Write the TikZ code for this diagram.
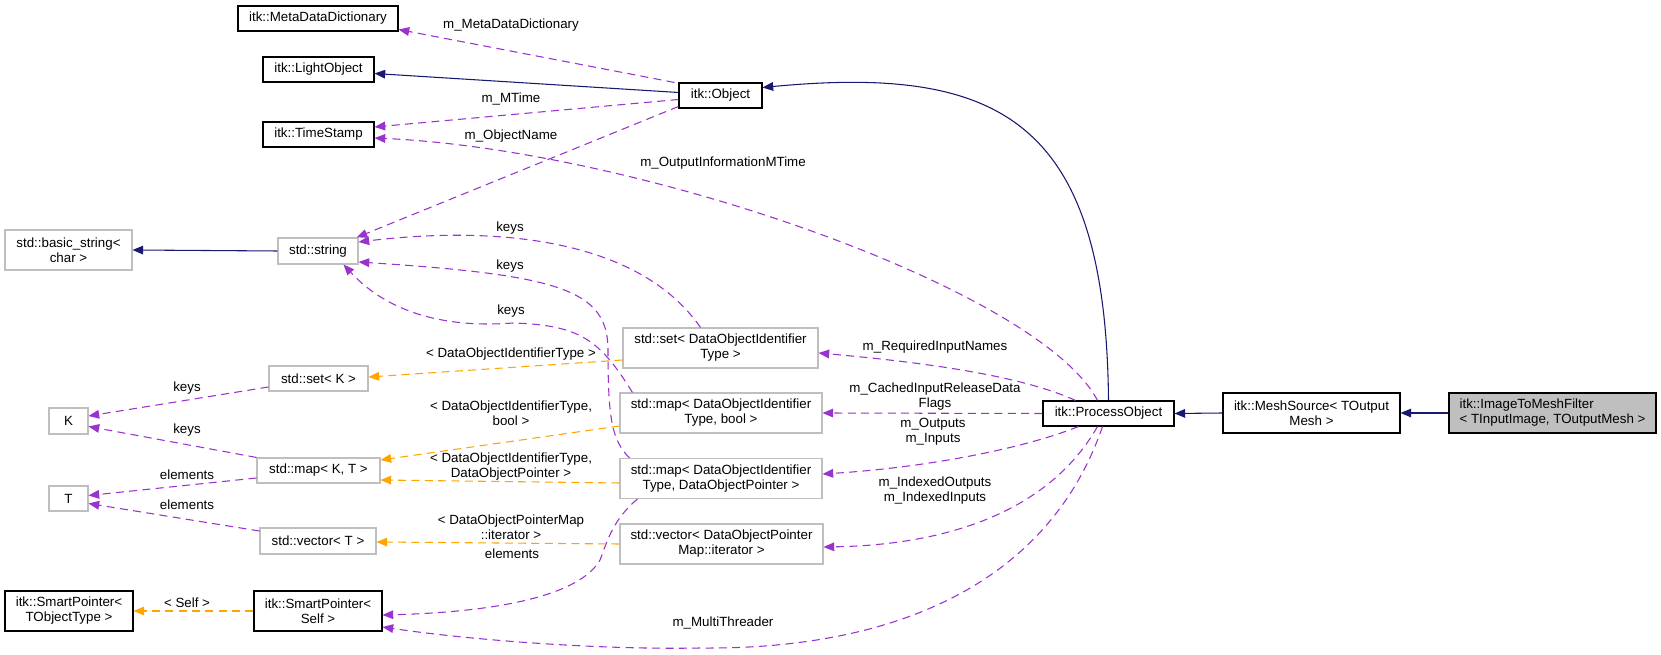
\documentclass[tikz,border=0pt]{standalone}
\usepackage{fontspec}
\setmainfont{Liberation Sans}
\usetikzlibrary{arrows.meta,calc}
\definecolor{navy}{HTML}{191970}
\definecolor{purp}{HTML}{9A32CD}
\definecolor{orng}{HTML}{FFA500}
\definecolor{gbord}{HTML}{BFBFBF}
\begin{document}
\begin{tikzpicture}[x=0.75pt,y=-0.75pt,
  txt/.style={font=\fontsize{10pt}{11.25pt}\selectfont},
  box/.style={txt,draw=black,line width=0.8pt,inner sep=0pt,align=center,minimum height=18.75pt},
  gbox/.style={box,draw=gbord},
  tall/.style={minimum height=30pt},
  tip/.style={-{Triangle[length=8pt,width=6.5pt]}},
  inh/.style={draw=navy,line width=0.8pt,tip},
  use/.style={draw=purp,line width=0.8pt,dash pattern=on 6pt off 4pt,tip},
  tmpl/.style={draw=orng,line width=0.8pt,dash pattern=on 6pt off 4pt,tip},
  lbl/.style={txt,align=center,inner sep=0pt}]
\useasboundingbox (0,0) rectangle (1661,655);
\fill[white] (0,0) rectangle (1661,655);

% nodes
\node[box,minimum width=120pt] (mdd) at (318,18.5) {itk::MetaDataDictionary};
\node[box,minimum width=83.25pt] (lo) at (318.5,69.5) {itk::LightObject};
\node[box,minimum width=83.25pt] (ts) at (318.5,134.5) {itk::TimeStamp};
\node[gbox,tall,minimum width=95.25pt] (bs) at (68.5,250) {std::basic\_string<\\char >};
\node[gbox,minimum width=60pt,minimum height=19.5pt] (str) at (318,251) {std::string};
\node[box,minimum width=62.25pt] (obj) at (720.5,95.5) {itk::Object};
\node[gbox,minimum width=74.25pt] (setk) at (318.5,378.5) {std::set< K >};
\node[gbox,minimum width=29.25pt,minimum height=19.5pt] (k) at (68.5,421) {K};
\node[gbox,minimum width=92.25pt] (mapkt) at (318.5,470.5) {std::map< K, T >};
\node[gbox,minimum width=29.25pt] (t) at (68.5,498.5) {T};
\node[gbox,minimum width=87pt,minimum height=19.5pt] (vect) at (318,541) {std::vector< T >};
\node[box,tall,minimum width=96pt] (spt) at (69,611) {itk::SmartPointer<\\TObjectType >};
\node[box,tall,minimum width=96pt] (sps) at (318,611) {itk::SmartPointer<\\Self >};
\node[gbox,tall,minimum width=146.25pt] (setd) at (720.5,348) {std::set< DataObjectIdentifier\\Type >};
\node[gbox,tall,minimum width=151.5pt] (mapb) at (721,413) {std::map< DataObjectIdentifier\\Type, bool >};
\node[gbox,tall,minimum width=151.5pt] (mapp) at (721,478.5) {std::map< DataObjectIdentifier\\Type, DataObjectPointer >};
\node[gbox,tall,minimum width=152.25pt] (vecd) at (721.5,544) {std::vector< DataObjectPointer\\Map::iterator >};
\node[box,minimum width=98.25pt] (po) at (1108.5,413.5) {itk::ProcessObject};
\node[box,tall,minimum width=132.75pt] (ms) at (1311.5,413) {itk::MeshSource< TOutput\\Mesh >};
\node[box,tall,minimum width=155.25pt,fill=gbord,align=left] (imf) at (1552.5,413) {itk::ImageToMeshFilter\\< TInputImage, TOutputMesh >};

% inheritance
\draw[inh] (imf.west) -- (ms.east);
\draw[inh] (ms.west) -- (po.east);
\draw[inh] (po.north) .. controls (1106,120) and (1000,65) .. ($(obj.east)+(0,-8)$);
\draw[inh] ($(obj.west)+(0,-3)$) -- ($(lo.east)+(0,4)$);
\draw[inh] (str.west) -- (bs.east);

% usage
\draw[use] ($(obj.north west)+(-4,0)$) -- ($(mdd.east)+(0,11)$);
\draw[use] ($(obj.west)+(0,4)$) -- ($(ts.east)+(0,-7.5)$);
\draw[use] ($(po.north)+(-11,0)$) .. controls (1040,290) and (640,150) .. ($(ts.east)+(0,3.5)$);
\draw[use] ($(obj.west)+(0,11)$) -- ($(str.north east)+(-2,0)$);
\draw[use] ($(setd.north)+(-20,0)$) .. controls (640,240) and (500,225) .. ($(str.east)+(0,-9)$);
\draw[use] ($(mapp.north west)+(10,0)$) .. controls (612,440) and (608,420) .. (608,350) .. controls (608,290) and (560,275) .. ($(str.east)+(0,11)$);
\draw[use] ($(mapb.north west)+(13,0)$) .. controls (600,340) and (580,325) .. (513,323) .. controls (450,328) and (390,315) .. ($(str.south east)+(-15,0)$);
\draw[use] ($(setk.west)+(0,8.5)$) -- ($(k.east)+(0,-5)$);
\draw[use] (mapkt.north west) -- ($(k.east)+(0,5.5)$);
\draw[use] ($(mapkt.west)+(0,7.5)$) -- ($(t.east)+(0,-3)$);
\draw[use] ($(vect.west)+(0,-10)$) -- ($(t.east)+(0,5)$);
\draw[use] ($(mapp.south west)+(18,0)$) .. controls (612,520) and (606,545) .. (600,560) .. controls (580,595) and (500,612) .. ($(sps.east)+(0,4)$);
\draw[use] ($(po.south)+(-6,0)$) .. controls (1050,580) and (900,650) .. (700,648) .. controls (600,650) and (470,640) .. ($(sps.east)+(0,16)$);
\draw[use] ($(po.north)+(-33,0)$) .. controls (1020,375) and (920,362) .. ($(setd.east)+(0,5)$);
\draw[use] (po.west) -- (mapb.east);
\draw[use] ($(po.south)+(-30,0)$) .. controls (1020,450) and (920,468) .. ($(mapp.east)+(0,-4.5)$);
\draw[use] ($(po.south)+(-11,0)$) .. controls (1050,510) and (950,545) .. ($(vecd.east)+(0,3)$);

% template
\draw[tmpl] ($(setd.west)+(0,12)$) -- ($(setk.east)+(0,-1.5)$);
\draw[tmpl] ($(mapb.west)+(0,13)$) -- ($(mapkt.east)+(0,-10.5)$);
\draw[tmpl] ($(mapp.west)+(0,4.5)$) -- ($(mapkt.east)+(0,9.5)$);
\draw[tmpl] (vecd.west) -- ($(vect.east)+(0,1)$);
\draw[tmpl] (sps.west) -- (spt.east);

% labels
\node[lbl] (l1) at (511,25) {m\_MetaDataDictionary};
\node[lbl] (l2) at (511,99) {m\_MTime};
\node[lbl] (l3) at (511,136) {m\_ObjectName};
\node[lbl] (l4) at (723,163) {m\_OutputInformationMTime};
\node[lbl] (l5) at (510,228) {keys};
\node[lbl] (l6) at (510,266) {keys};
\node[lbl] (l7) at (511,311) {keys};
\node[lbl] (l8) at (511,354) {< DataObjectIdentifierType >};
\node[lbl] (l9) at (511,413) {< DataObjectIdentifierType,\\bool >};
\node[lbl] (l10) at (511,467) {< DataObjectIdentifierType,\\DataObjectPointer >};
\node[lbl] (l11) at (511,527) {< DataObjectPointerMap\\::iterator >};
\node[lbl] (l12) at (512,554) {elements};
\node[lbl] (l13) at (723,623) {m\_MultiThreader};
\node[lbl] (l14) at (935,347) {m\_RequiredInputNames};
\node[lbl] (l15) at (935,397) {m\_CachedInputReleaseData\\Flags};
\node[lbl] (l16) at (933,432) {m\_Outputs\\m\_Inputs};
\node[lbl] (l17) at (935,491) {m\_IndexedOutputs\\m\_IndexedInputs};
\node[lbl] (l18) at (187,388) {keys};
\node[lbl] (l19) at (187,430) {keys};
\node[lbl] (l20) at (187,475) {elements};
\node[lbl] (l21) at (187,505) {elements};
\node[lbl] (l22) at (187,603) {< Self >};
\end{tikzpicture}
\end{document}
